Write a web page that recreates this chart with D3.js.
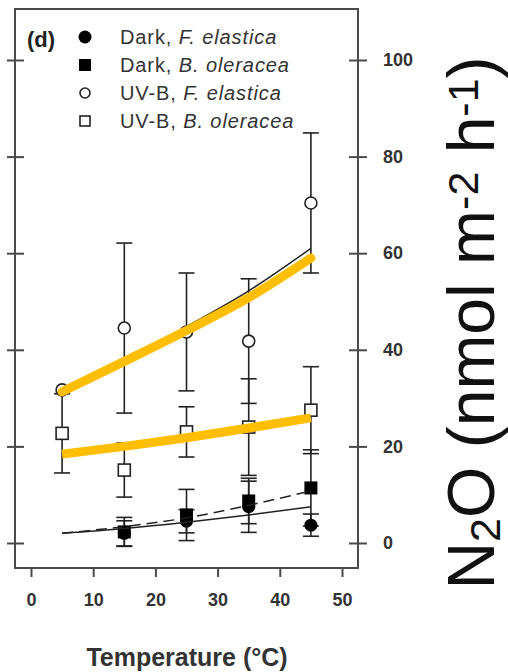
<!DOCTYPE html>
<html>
<head>
<meta charset="utf-8">
<script src="https://cdn.jsdelivr.net/npm/d3@7"></script>
<style>
  html, body { margin: 0; padding: 0; background: #fff; }
  svg { display: block; }
  text { font-family: "Liberation Sans", Arial, sans-serif; }
</style>
</head>
<body>
<svg id="chart" width="508" height="672"></svg>
<script>
// Measurement temperatures (°C)
const temps = [5, 15, 25, 35, 45];
const darkTemps = [15, 25, 35, 45];

// N2O flux means and standard errors (nmol m-2 h-1)
const uvbFelMean = [31.7, 44.5, 43.7, 41.8, 70.4];
const uvbFelErr  = [0, 17.6, 12.2, 12.9, 14.5];
const uvbBolMean = [22.7, 15.1, 23.0, 24.0, 27.5];
const uvbBolErr  = [8.2, 5.6, 5.2, 10.0, 9.0];
const darkBolMean = [2.3, 5.8, 8.7, 11.4];
const darkBolErr  = [3.0, 5.3, 4.7, 7.9];
const darkFelMean = [2.0, 4.5, 7.5, 3.7];
const darkFelErr  = [2.6, 2.4, 5.3, 2.3];

// Fitted curves
const darkFelFit = [2.0, 3.0, 4.3, 5.8, 7.5];
const darkBolFit = [2.0, 3.4, 5.2, 7.8, 10.8];
const uvbFelFit  = [32.0, 37.8, 44.8, 52.2, 61.0];
const uvbBolFit  = [18.8, 20.3, 22.0, 23.9, 26.2];
// Highlighter strokes over the UV-B fits
const uvbFelMark = [31.3, 37.6, 44.0, 50.8, 59.0];
const uvbBolMark = [18.4, 20.0, 21.8, 23.8, 25.9];

// Axis ticks
const xTicks = [0, 10, 20, 30, 40, 50];
const yTicks = [0, 20, 40, 60, 80, 100];

const legendLabels = [
  { pre: "Dark, ", sp: "F. elastica", sym: "fcircle" },
  { pre: "Dark, ", sp: "B. oleracea", sym: "fsquare" },
  { pre: "UV-B, ", sp: "F. elastica", sym: "ocircle" },
  { pre: "UV-B, ", sp: "B. oleracea", sym: "osquare" }
];

const svg = d3.select("#chart");
const ink = "#222";
const frameInk = "#4a4a4a";
const gold = "#FFBE00";

const x = d3.scaleLinear().domain([0, 50]).range([31, 342]);
const y = d3.scaleLinear().domain([0, 100]).range([543, 60]);

// plot frame
const fx0 = 15, fx1 = 358, fy0 = 9, fy1 = 568;
svg.append("rect")
  .attr("x", fx0).attr("y", fy0)
  .attr("width", fx1 - fx0).attr("height", fy1 - fy0)
  .attr("fill", "none").attr("stroke", frameInk).attr("stroke-width", 2);

// left axis: crossing ticks, no labels
const leftAxis = d3.axisLeft(y).tickValues(yTicks).tickSize(9).tickFormat("");
const gl = svg.append("g").attr("transform", `translate(${fx0},0)`).call(leftAxis);
gl.select(".domain").remove();
gl.selectAll(".tick line").attr("x1", -8).attr("x2", 9)
  .attr("stroke", frameInk).attr("stroke-width", 2);

// right axis: crossing ticks with labels
const rightAxis = d3.axisRight(y).tickValues(yTicks).tickSize(9).tickPadding(16).tickFormat(d3.format("d"));
const gr = svg.append("g").attr("transform", `translate(${fx1},0)`).call(rightAxis);
gr.select(".domain").remove();
gr.selectAll(".tick line").attr("x1", -9).attr("x2", 9)
  .attr("stroke", frameInk).attr("stroke-width", 2);
gr.selectAll(".tick text")
  .attr("x", 25)
  .attr("fill", "#333")
  .style("font-family", "'Liberation Sans', Arial, sans-serif")
  .style("font-weight", "bold")
  .style("font-size", "18px");

// bottom axis: outward ticks
const bottomAxis = d3.axisBottom(x).tickValues(xTicks).tickSize(9).tickPadding(16).tickFormat(d3.format("d"));
const gb = svg.append("g").attr("transform", `translate(0,${fy1})`).call(bottomAxis);
gb.select(".domain").remove();
gb.selectAll(".tick line").attr("stroke", frameInk).attr("stroke-width", 2);
gb.selectAll(".tick text")
  .attr("fill", "#333")
  .style("font-family", "'Liberation Sans', Arial, sans-serif")
  .style("font-weight", "bold")
  .style("font-size", "18px");

// axis titles
svg.append("text")
  .attr("x", 187).attr("y", 666)
  .attr("text-anchor", "middle")
  .attr("fill", "#333")
  .style("font-weight", "bold").style("font-size", "25px")
  .text("Temperature (°C)");

const yt = svg.append("text")
  .attr("transform", "translate(494,323) rotate(-90)")
  .attr("text-anchor", "middle")
  .attr("fill", "#111")
  .style("font-size", "66px");
yt.append("tspan").text("N");
yt.append("tspan").attr("baseline-shift", "-14%").style("font-size", "43px").text("2");
yt.append("tspan").text("O (nmol m");
yt.append("tspan").attr("baseline-shift", "38%").style("font-size", "43px").text("-2");
yt.append("tspan").text(" h");
yt.append("tspan").attr("baseline-shift", "38%").style("font-size", "43px").text("-1");
yt.append("tspan").text(")");

// error bars
const cap = 8;
function errorBars(xs, means, errs) {
  const g = svg.append("g").attr("stroke", ink).attr("stroke-width", 1.6);
  xs.forEach((t, i) => {
    if (!errs[i]) return;
    const cx = x(t), lo = y(means[i] - errs[i]), hi = y(means[i] + errs[i]);
    g.append("line").attr("x1", cx).attr("x2", cx).attr("y1", lo).attr("y2", hi);
    g.append("line").attr("x1", cx - cap).attr("x2", cx + cap).attr("y1", lo).attr("y2", lo);
    g.append("line").attr("x1", cx - cap).attr("x2", cx + cap).attr("y1", hi).attr("y2", hi);
  });
}
errorBars(temps, uvbFelMean, uvbFelErr);
errorBars(temps, uvbBolMean, uvbBolErr);
errorBars(darkTemps, darkBolMean, darkBolErr);
errorBars(darkTemps, darkFelMean, darkFelErr);

// markers
function marker(g, sym, cx, cy) {
  if (sym === "fcircle") {
    g.append("circle").attr("cx", cx).attr("cy", cy).attr("r", 6.5).attr("fill", "#000");
  } else if (sym === "ocircle") {
    g.append("circle").attr("cx", cx).attr("cy", cy).attr("r", 6)
      .attr("fill", "#fff").attr("stroke", ink).attr("stroke-width", 1.6);
  } else if (sym === "fsquare") {
    g.append("rect").attr("x", cx - 6.5).attr("y", cy - 6.5).attr("width", 13).attr("height", 13).attr("fill", "#000");
  } else {
    g.append("rect").attr("x", cx - 6).attr("y", cy - 6).attr("width", 12).attr("height", 12)
      .attr("fill", "#fff").attr("stroke", ink).attr("stroke-width", 1.6);
  }
}
const gm = svg.append("g");
temps.forEach((t, i) => marker(gm, "osquare", x(t), y(uvbBolMean[i])));
temps.forEach((t, i) => marker(gm, "ocircle", x(t), y(uvbFelMean[i])));
darkTemps.forEach((t, i) => marker(gm, "fcircle", x(t), y(darkFelMean[i])));
darkTemps.forEach((t, i) => marker(gm, "fsquare", x(t), y(darkBolMean[i])));

// fitted curves
const line = d3.line().x((d, i) => x(temps[i])).y(d => y(d)).curve(d3.curveMonotoneX);
svg.append("path").attr("d", line(darkFelFit)).attr("fill", "none").attr("stroke", ink).attr("stroke-width", 1.5);
svg.append("path").attr("d", line(darkBolFit)).attr("fill", "none").attr("stroke", ink).attr("stroke-width", 1.5)
  .attr("stroke-dasharray", "11,6");
svg.append("path").attr("d", line(uvbFelFit)).attr("fill", "none").attr("stroke", ink).attr("stroke-width", 1.5);
svg.append("path").attr("d", line(uvbBolFit)).attr("fill", "none").attr("stroke", ink).attr("stroke-width", 1.5);

// highlighter strokes
svg.append("path").attr("d", line(uvbFelMark)).attr("fill", "none").attr("stroke", gold)
  .attr("stroke-width", 9).attr("stroke-linecap", "round").attr("stroke-linejoin", "round");
svg.append("path").attr("d", line(uvbBolMark)).attr("fill", "none").attr("stroke", gold)
  .attr("stroke-width", 9).attr("stroke-linecap", "butt").attr("stroke-linejoin", "round");

// panel letter and legend
svg.append("text").attr("x", 27).attr("y", 47)
  .attr("fill", "#222").style("font-weight", "bold").style("font-size", "22px").text("(d)");
const lg = svg.append("g");
legendLabels.forEach((d, i) => {
  const cy = 37 + i * 28;
  const s = d.sym;
  if (s === "fcircle") lg.append("circle").attr("cx", 85).attr("cy", cy).attr("r", 6.5).attr("fill", "#000");
  else if (s === "fsquare") lg.append("rect").attr("x", 79).attr("y", cy - 6).attr("width", 12).attr("height", 12).attr("fill", "#000");
  else if (s === "ocircle") lg.append("circle").attr("cx", 85).attr("cy", cy).attr("r", 5)
    .attr("fill", "#fff").attr("stroke", ink).attr("stroke-width", 1.6);
  else lg.append("rect").attr("x", 80).attr("y", cy - 5).attr("width", 10).attr("height", 10)
    .attr("fill", "#fff").attr("stroke", ink).attr("stroke-width", 1.6);
  const t = lg.append("text").attr("x", 120).attr("y", cy + 7)
    .attr("fill", "#333").style("font-size", "20px").style("letter-spacing", "0.9px");
  t.append("tspan").text(d.pre);
  t.append("tspan").style("font-style", "italic").text(d.sp);
});
</script>
</body>
</html>
